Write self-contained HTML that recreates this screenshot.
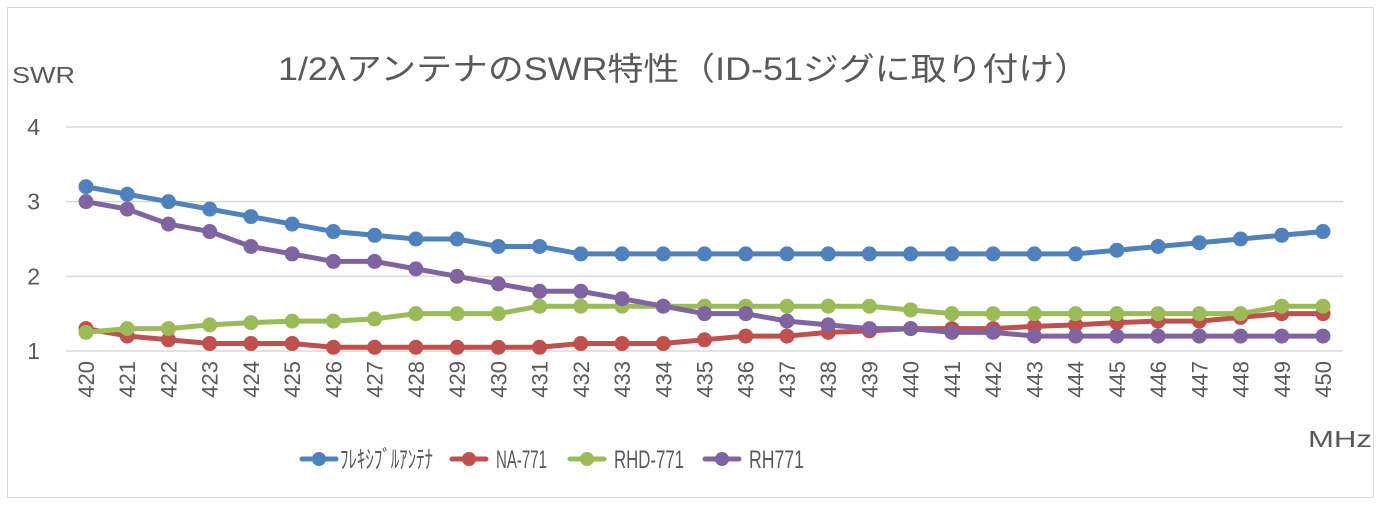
<!DOCTYPE html>
<html><head><meta charset="utf-8"><style>
body{margin:0;background:#fff}
svg{display:block;font-family:"Liberation Sans","Noto Sans CJK JP",sans-serif}
</style></head><body>
<svg width="1381" height="507" viewBox="0 0 1381 507">
<rect x="7.5" y="7.5" width="1366" height="490" fill="#fff" stroke="#d9d9d9"/>
<text x="278" y="80" font-size="32" fill="#595959" textLength="812" lengthAdjust="spacingAndGlyphs">1/2λアンテナのSWR特性（ID-51ジグに取り付け）</text>
<text x="12" y="83" font-size="23" fill="#595959" textLength="63" lengthAdjust="spacingAndGlyphs">SWR</text>
<text x="1308" y="447" font-size="23" fill="#595959" textLength="64" lengthAdjust="spacingAndGlyphs">MHz</text>
<g id="grid"></g><g id="ylab"></g><g id="xlab"></g><g id="series"></g>
<g id="legend" font-size="25" fill="#595959"></g>
</svg>
<script>
const categories=[420,421,422,423,424,425,426,427,428,429,430,431,432,433,434,435,436,437,438,439,440,441,442,443,444,445,446,447,448,449,450];
const yTicks=[1,2,3,4];
const seriesNames=["ﾌﾚｷｼﾌﾞﾙｱﾝﾃﾅ","NA-771","RHD-771","RH771"];
const seriesColors=["#4f81bd","#c0504d","#9bbb59","#8064a2"];
const flexible=[3.2,3.1,3.0,2.9,2.8,2.7,2.6,2.55,2.5,2.5,2.4,2.4,2.3,2.3,2.3,2.3,2.3,2.3,2.3,2.3,2.3,2.3,2.3,2.3,2.3,2.35,2.4,2.45,2.5,2.55,2.6];
const na771=[1.3,1.2,1.15,1.1,1.1,1.1,1.05,1.05,1.05,1.05,1.05,1.05,1.1,1.1,1.1,1.15,1.2,1.2,1.25,1.27,1.3,1.3,1.3,1.33,1.35,1.38,1.4,1.4,1.45,1.5,1.5];
const rhd771=[1.25,1.3,1.3,1.35,1.38,1.4,1.4,1.43,1.5,1.5,1.5,1.6,1.6,1.6,1.6,1.6,1.6,1.6,1.6,1.6,1.55,1.5,1.5,1.5,1.5,1.5,1.5,1.5,1.5,1.6,1.6];
const rh771=[3.0,2.9,2.7,2.6,2.4,2.3,2.2,2.2,2.1,2.0,1.9,1.8,1.8,1.7,1.6,1.5,1.5,1.4,1.35,1.3,1.3,1.25,1.25,1.2,1.2,1.2,1.2,1.2,1.2,1.2,1.2];
const NS="http://www.w3.org/2000/svg";
const X0=86,X1=1323,Y1=351,Y4=127;
function xs(i){return X0+(X1-X0)*i/(categories.length-1);}
function ys(v){return Y1-(v-1)*(Y1-Y4)/3;}
function mk(tag,attrs,parent){const e=document.createElementNS(NS,tag);for(const k in attrs)e.setAttribute(k,attrs[k]);parent.appendChild(e);return e;}
const grid=document.getElementById('grid'),ylab=document.getElementById('ylab'),xlab=document.getElementById('xlab');
yTicks.forEach(t=>{
 const l=mk('line',{x1:66,x2:1343,y1:ys(t),y2:ys(t),stroke:'#d9d9d9','stroke-width':1.5},grid);
 
 
 const tx=mk('text',{x:40,y:ys(t)+8,'font-size':23,fill:'#595959','text-anchor':'end'},ylab);
 tx.textContent=t;
 
 
});
categories.forEach((c,i)=>{
 const tx=mk('text',{transform:`translate(${xs(i)+8},361) rotate(-90)`,'font-size':22,fill:'#595959','text-anchor':'end'},xlab);
 tx.textContent=c;
 
 
});
const data=[flexible,na771,rhd771,rh771];
const sg=document.getElementById('series');
data.forEach((arr,s)=>{
 const g=mk('g',{},sg);
 
 
 const p=mk('polyline',{points:arr.map((v,i)=>xs(i)+','+ys(v)).join(' '),fill:'none',stroke:seriesColors[s],'stroke-width':5,'stroke-linejoin':'round'},g);
 
 
 arr.forEach((v,i)=>{
  const c=mk('circle',{cx:xs(i),cy:ys(v),r:7.5,fill:seriesColors[s]},g);
  
  
 });
});
const lg=document.getElementById('legend');
const lx=[300,450,568,703];
const tw=[93,51,70,55];
seriesNames.forEach((n,s)=>{
 const g=mk('g',{},lg);
 
 
 mk('line',{x1:lx[s]+2,x2:lx[s]+36,y1:459,y2:459,stroke:seriesColors[s],'stroke-width':5,'stroke-linecap':'round'},g);
 mk('circle',{cx:lx[s]+19,cy:459,r:7,fill:seriesColors[s]},g);
 const t=mk('text',{x:lx[s]+(s===0?40:46),y:468,textLength:tw[s],lengthAdjust:'spacingAndGlyphs'},g);
 t.textContent=n;
});
</script>
</body></html>
